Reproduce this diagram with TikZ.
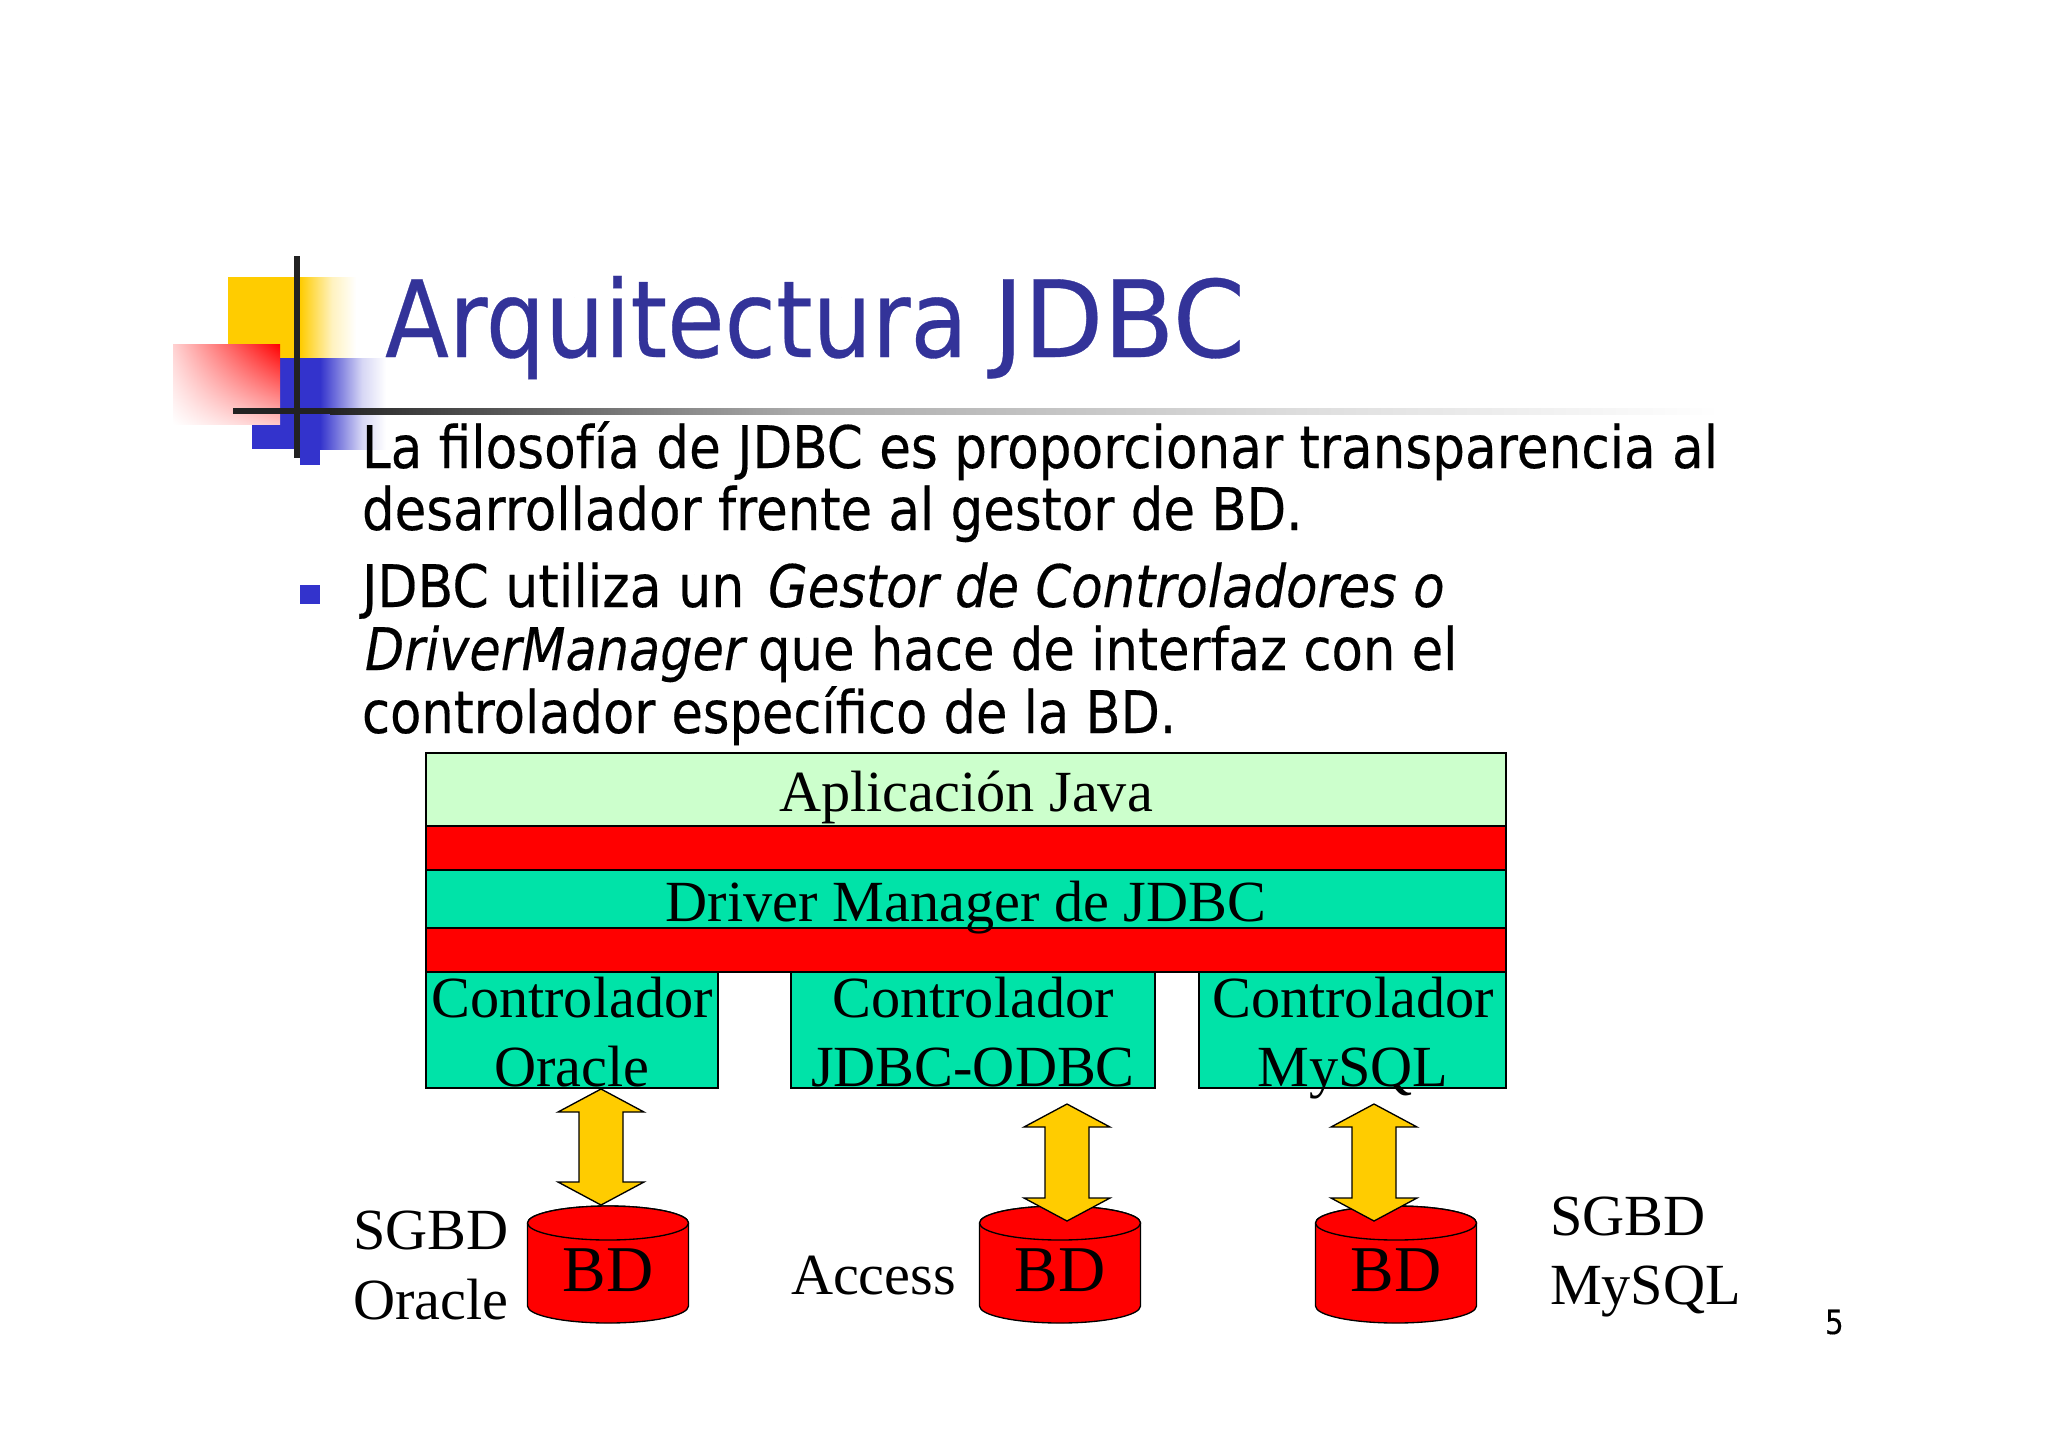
\documentclass[tikz,border=0pt]{standalone}
\usepackage{fontspec}
\usetikzlibrary{calc,shadings}
\setmainfont{Liberation Serif}
\newfontfamily\tah{DejaVu Sans}[FakeStretch=0.88,FakeBold=0.3]
\newfontfamily\tahwide{DejaVu Sans}[FakeStretch=0.9,FakeBold=0.3]
\definecolor{titleblue}{HTML}{333399}
\definecolor{bulletblue}{HTML}{3333CC}
\definecolor{logoyellow}{HTML}{FFCC00}
\definecolor{boxgreen}{HTML}{00E3A8}
\definecolor{appgreen}{HTML}{CCFFCC}
\definecolor{barred}{HTML}{FF0000}
\definecolor{inkdark}{HTML}{222222}
\definecolor{ruleA}{HTML}{3A3A3A}
\definecolor{ruleB}{HTML}{ABABAB}
\definecolor{ruleC}{HTML}{DDDDDD}
\newcommand{\tsize}[1]{\fontsize{#1}{#1}\selectfont}
\tikzset{
  x=0.75pt,y=-0.75pt,
  txt/.style={inner sep=0pt,outer sep=0pt,anchor=base west,text=black},
  ctr/.style={inner sep=0pt,outer sep=0pt,anchor=base,text=black,font=\tsize{43.7}},
  body/.style={txt,font=\tah\tsize{44}},
  layer/.style={draw=black,line width=1pt},
  blockarrow/.style={draw=black,fill=logoyellow,line width=1pt,line join=miter},
  drum/.style={draw=black,fill=barred,line width=1pt},
}
\newcommand{\layerbox}[6]{% name, x1,y1,x2,y2, fill
  \path[layer,fill=#6] (#2,#3) rectangle (#4,#5);
  \coordinate (#1) at ({(#2+#4)/2},{(#3+#5)/2});
}
\newcommand{\dblarrow}[2]{% top tip, bottom tip
  \draw[blockarrow] (#1) -- ($(#1)+(43,23)$) -- ($(#1)+(22,23)$)
    -- ($(#2)+(22,-23)$) -- ($(#2)+(43,-23)$) -- (#2)
    -- ($(#2)+(-43,-23)$) -- ($(#2)+(-22,-23)$)
    -- ($(#1)+(-22,23)$) -- ($(#1)+(-43,23)$) -- cycle;
}
\newcommand{\bdcyl}[2]{% name, center x
  \draw[drum] (#2-80.5,1223) -- (#2-80.5,1306) arc[start angle=180,end angle=0,x radius=80.5,y radius=17]
     -- (#2+80.5,1223) arc[start angle=0,end angle=-180,x radius=80.5,y radius=17] -- cycle;
  \draw[drum] (#2,1223) ellipse[x radius=80.5,y radius=17];
  \node[ctr,font=\tsize{49}] (#1) at (#2,1291) {BD};
}
\begin{document}
\begin{tikzpicture}
\useasboundingbox[fill=white] (0,0) rectangle (2048,1447);
% logo
\fill[logoyellow] (228,277) rectangle (300,358);
\shade[left color=logoyellow,right color=logoyellow!25] (300,277) rectangle (332,358);
\shade[left color=logoyellow!25,right color=white] (332,277) rectangle (356,358);
\fill[bulletblue] (252,358) rectangle (320,449);
\shade[left color=bulletblue,right color=bulletblue!20] (320,358) rectangle (362,449);
\shade[left color=bulletblue!20,right color=white] (362,358) rectangle (386,449);
\shade[upper right=barred,upper left=barred!18,lower right=barred!22,lower left=white] (173,344) rectangle (280,424);
\fill[bulletblue] (300,448) rectangle (320,465);
\fill[bulletblue] (300,585) rectangle (320,604);
\fill[inkdark] (294,256) rectangle (300,458);
\fill[inkdark] (233,408) rectangle (330,414);
\shade[left color=inkdark,right color=ruleA] (330,408) rectangle (400,414);
\shade[left color=ruleA,right color=ruleB] (400,408) rectangle (800,414);
\shade[left color=ruleB,right color=ruleC] (800,408) rectangle (1300,414);
\shade[left color=ruleC,right color=white] (1300,408) rectangle (1720,414);
% title
\node[txt,text=titleblue,font=\tahwide\tsize{80}] (title) at (385,357) {\scalebox{0.974}[1]{Arquitectura}};
\node[txt,text=titleblue,font=\tahwide\tsize{80}] (title2) at (993,357) {\scalebox{1.08}[1]{JDBC}};
% body
\node[body] (l1) at (362,468) {La filosofía de JDBC es proporcionar transparencia al};
\node[body] (l2) at (362,530) {\scalebox{0.996}[1]{desarrollador frente al gestor de BD.}};
\node[body] (l3a) at (362,607) {\scalebox{1.01}[1]{JDBC utiliza un}};
\node[body] (l3b) at (768,607) {\scalebox{0.994}[1]{\textit{Gestor de Controladores o}}};
\node[body] (l4a) at (365,670) {\scalebox{0.986}[1]{\textit{DriverManager}}};
\node[body] (l4b) at (758,670) {\scalebox{0.993}[1]{que hace de interfaz con el}};
\node[body] (l5) at (362,733) {\scalebox{0.99}[1]{controlador específico de la BD.}};
% layers
\layerbox{app}{426}{753}{1506}{826}{appgreen}
\layerbox{r1}{426}{826}{1506}{870}{barred}
\layerbox{dm}{426}{870}{1506}{928}{boxgreen}
\layerbox{r2}{426}{928}{1506}{972}{barred}
\layerbox{c1}{426}{972}{718}{1088}{boxgreen}
\layerbox{c2}{791}{972}{1155}{1088}{boxgreen}
\layerbox{c3}{1199}{972}{1506}{1088}{boxgreen}
\node[ctr] (tapp) at (966,811) {Aplicación Java};
\node[ctr] (tdm) at (966,921) {Driver Manager de JDBC};
\node[ctr] (tc1a) at (572,1017) {Controlador};
\node[ctr] (tc1b) at (572,1086) {Oracle};
\node[ctr] (tc2a) at (973,1017) {Controlador};
\node[ctr] (tc2b) at (973,1086) {JDBC-ODBC};
\node[ctr] (tc3a) at (1353,1017) {Controlador};
\node[ctr] (tc3b) at (1353,1086) {MySQL};
% cylinders
\bdcyl{db1}{608}
\bdcyl{db2}{1060}
\bdcyl{db3}{1396}
% arrows
\coordinate (a1t) at (601,1089); \coordinate (a1b) at (601,1205);
\coordinate (a2t) at (1067,1104); \coordinate (a2b) at (1067,1221);
\coordinate (a3t) at (1374,1104); \coordinate (a3b) at (1374,1221);
\dblarrow{a1t}{a1b}
\dblarrow{a2t}{a2b}
\dblarrow{a3t}{a3b}
% side labels
\node[txt,font=\tsize{43.7}] (s1a) at (353,1249) {SGBD};
\node[txt,font=\tsize{43.7}] (s1b) at (353,1319) {Oracle};
\node[txt,font=\tsize{43.7}] (acc) at (791,1294) {Access};
\node[txt,font=\tsize{43.7}] (s3a) at (1550,1235) {SGBD};
\node[txt,font=\tsize{43.7}] (s3b) at (1550,1304) {MySQL};
\node[txt,font=\tah\tsize{25}] (pg) at (1825,1334) {5};
\end{tikzpicture}
\end{document}
